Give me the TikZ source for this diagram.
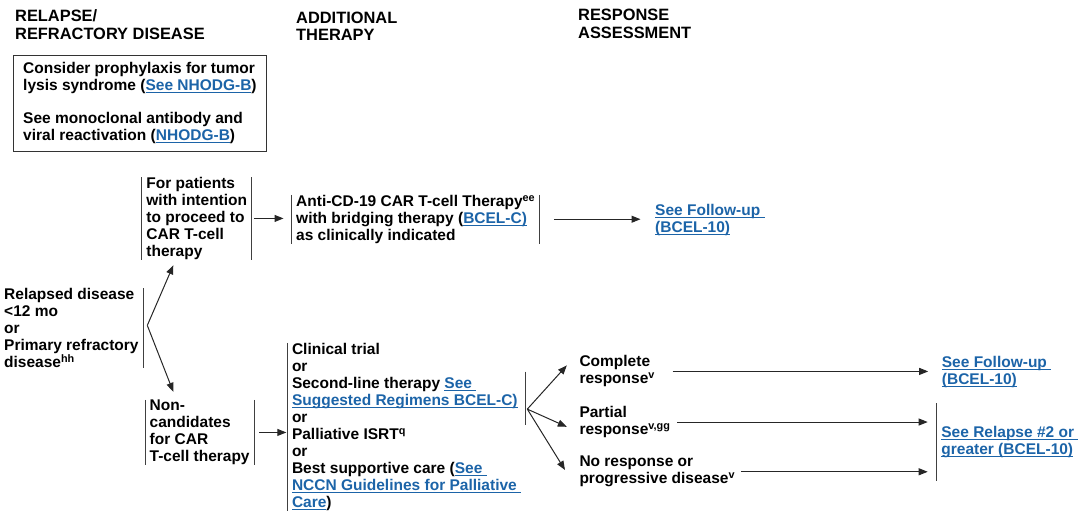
\documentclass[tikz,border=0pt]{standalone}
\usepackage{fontspec}
\setmainfont{Liberation Sans}
\usetikzlibrary{arrows.meta,calc}
\definecolor{linkblue}{RGB}{28,100,168}
\newsavebox{\lnkbox}
\newcommand{\lnk}[1]{{\color{linkblue}\sbox{\lnkbox}{#1}\rlap{\rule[-2.2pt]{\wd\lnkbox}{0.9pt}}\usebox{\lnkbox}}}
\tikzset{
  txt/.style={anchor=north west, inner xsep=4.5pt, inner ysep=0pt, align=left,
    font=\fontsize{15.5}{17}\selectfont\bfseries},
  head/.style={anchor=north west, inner sep=0pt, align=left,
    font=\fontsize{16.4}{18.3}\selectfont\bfseries},
  notebox/.style={txt, draw=black!80, line width=0.9pt, inner sep=0pt,
    minimum width=253pt, minimum height=96pt},
  bar/.style={draw=black!75, line width=1pt},
  lbar/.style={append after command={(\tikzlastnode.north west) edge[bar] (\tikzlastnode.south west)}},
  rbar/.style={append after command={(\tikzlastnode.north east) edge[bar] (\tikzlastnode.south east)}},
  arr/.style={draw=black!85, line width=1pt, -{Triangle[length=9pt,width=7pt]}}
}
\begin{document}
\begin{tikzpicture}[x=1pt,y=-1pt]
  \useasboundingbox (0,0) rectangle (1085,512);

  \node[head] (hdrel)  at (15,9)  {RELAPSE/\\REFRACTORY DISEASE};
  \node[head] (hdadd)  at (296,11.6) {ADDITIONAL\\[-1.5pt]THERAPY};
  \node[head] (hdresp) at (578,9) {RESPONSE\\ASSESSMENT};

  \node[notebox] (prophy) at (13,55) {Consider prophylaxis for tumor\\lysis syndrome (\lnk{See NHODG-B})\\[16pt]See monoclonal antibody and\\viral reactivation (\lnk{NHODG-B})};

  \node[txt,rbar] (relapse) at (-0.5,288) {Relapsed disease\\<12 mo\\or\\Primary refractory\\disease\textsuperscript{hh}};
  \node[txt,lbar,rbar] (carpat) at (141.7,177) {For patients\\with intention\\to proceed to\\CAR T-cell\\therapy};
  \node[txt,lbar,rbar] (noncar) at (145,399.8) {Non-\\candidates\\for CAR\\T-cell therapy};
  \node[txt,lbar,rbar] (cart) at (291.5,194.8) {Anti-CD-19 CAR T-cell Therapy\textsuperscript{ee}\\with bridging therapy (\lnk{BCEL-C)}\\as clinically indicated};
  \node[txt] (fuA) at (650.5,203.8) {\lnk{See Follow-up\ }\\\lnk{(BCEL-10)}};
  \node[txt,lbar] (options) at (287.3,342.8) {Clinical trial\\or\\Second-line therapy \lnk{See\ }\\\lnk{Suggested Regimens BCEL-C)}\\or\\Palliative ISRT\textsuperscript{q}\\or\\Best supportive care (\lnk{See\ }\\\lnk{NCCN Guidelines for Palliative\ }\\\lnk{Care})};

  \node[txt] (cr) at (574.8,355.5) {Complete\\response\textsuperscript{v}};
  \node[txt] (pr) at (574.8,406.1) {Partial\\response\textsuperscript{v,gg}};
  \node[txt] (nr) at (574.8,456.1) {No response or\\progressive disease\textsuperscript{v}};
  \node[txt] (fuB) at (937.2,356.1) {\lnk{See Follow-up\ }\\\lnk{(BCEL-10)}};
  \node[txt,lbar,inner ysep=23pt] (relB) at (936.7,403.1) {\lnk{See Relapse \#2 or\ }\\\lnk{greater (BCEL-10)}};

  \coordinate (fork) at ([shift={(4pt,2.5pt)}]relapse.east);
  \draw[arr] (fork) -- ([shift={(31.6pt,-5.4pt)}]carpat.south west);
  \draw[arr] (fork) -- ([shift={(28.3pt,8pt)}]noncar.north west);
  \draw[arr,shorten <=2pt,shorten >=8pt] (carpat.east) -- (carpat.east -| cart.west);
  \draw[arr,shorten <=14pt,shorten >=10pt] (cart.east) -- (cart.east -| fuA.west);
  \draw[arr,shorten <=5pt,shorten >=1pt] (noncar.east) -- (noncar.east -| options.west);

  \draw[bar] ([yshift=55pt]options.east) -- ([yshift=1.6pt]options.east);
  \coordinate (fork2) at ([shift={(1.5pt,17.6pt)}]options.east);
  \draw[arr] (fork2) -- ([shift={(-8pt,6pt)}]cr.west);
  \draw[arr] (fork2) -- ([shift={(-8pt,-4.8pt)}]pr.west);
  \draw[arr] (fork2) -- ([shift={(-9.8pt,1.8pt)}]nr.west);
  \draw[arr,shorten <=13pt,shorten >=9pt] (cr.east) -- (cr.east -| fuB.west);
  \draw[arr,shorten <=2pt,shorten >=9pt] (pr.east) -- (pr.east -| relB.west);
  \draw[arr,shorten <=1pt,shorten >=9pt] (nr.east) -- (nr.east -| relB.west);
\end{tikzpicture}
\end{document}
